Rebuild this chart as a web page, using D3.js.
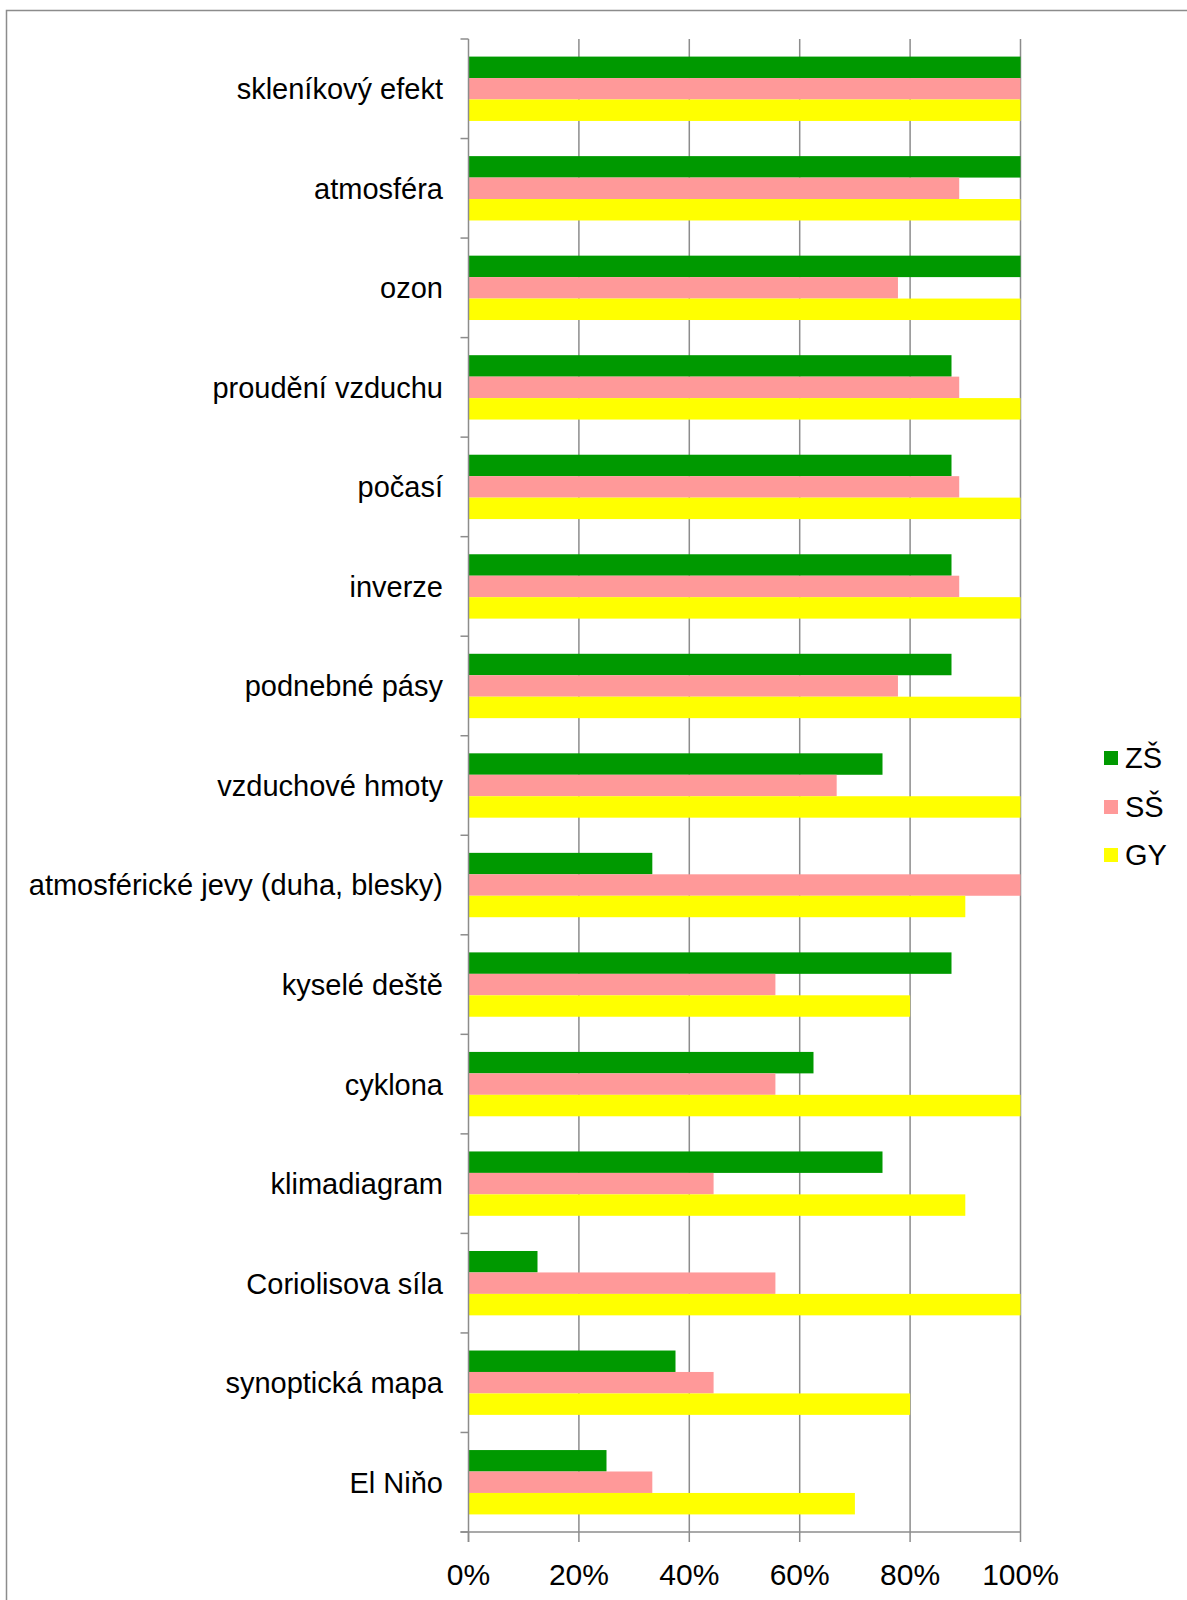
<!DOCTYPE html>
<html>
<head>
<meta charset="utf-8">
<script src="https://cdn.jsdelivr.net/npm/d3@7"></script>
<style>
  html, body { margin: 0; padding: 0; background: #fff; }
  svg { display: block; font-family: "Liberation Sans", Arial, sans-serif; }
</style>
</head>
<body>
<svg id="chart" width="1187" height="1600"></svg>
<script>
// Topics (top to bottom)
const categories = [
  "skleníkový efekt", "atmosféra", "ozon", "proudění vzduchu", "počasí",
  "inverze", "podnebné pásy", "vzduchové hmoty", "atmosférické jevy (duha, blesky)",
  "kyselé deště", "cyklona", "klimadiagram", "Coriolisova síla", "synoptická mapa", "El Niňo"
];

// Share of respondents per school type (in %)
const seriesNames = ["ZŠ", "SŠ", "GY"];
const valuesZS = [100, 100, 100, 87.5, 87.5, 87.5, 87.5, 75, 33.3, 87.5, 62.5, 75, 12.5, 37.5, 25];
const valuesSS = [100, 88.9, 77.8, 88.9, 88.9, 88.9, 77.8, 66.7, 100, 55.6, 55.6, 44.4, 55.6, 44.4, 33.3];
const valuesGY = [100, 100, 100, 100, 100, 100, 100, 100, 90, 80, 100, 90, 100, 80, 70];
const seriesColors = ["#009900", "#ff9999", "#ffff00"];
const xTicks = [0, 20, 40, 60, 80, 100];

const series = [valuesZS, valuesSS, valuesGY];

const svg = d3.select("#chart");
const gridColor = "#8c8c8c";

// Outer frame
svg.append("path")
  .attr("d", "M6.5,1600 V10.5 H1187")
  .attr("fill", "none").attr("stroke", gridColor).attr("stroke-width", 1.5);

const plot = { left: 468.5, right: 1020.5, top: 39, bottom: 1532 };

const x = d3.scaleLinear().domain([0, 100]).range([plot.left, plot.right]);
const y = d3.scaleBand().domain(categories).range([plot.top, plot.bottom]).padding(0);
const ySub = d3.scaleBand().domain(seriesNames).range([0, y.bandwidth()])
  .paddingInner(0).paddingOuter(0.82);

// Vertical gridlines
svg.append("g").selectAll("line")
  .data(xTicks.filter(t => t > 0))
  .join("line")
  .attr("x1", d => x(d)).attr("x2", d => x(d))
  .attr("y1", plot.top).attr("y2", plot.bottom)
  .attr("stroke", gridColor).attr("stroke-width", 1.5);

// Bars
seriesNames.forEach((name, si) => {
  svg.append("g").selectAll("rect")
    .data(categories.map((c, i) => ({ c, v: series[si][i] })))
    .join("rect")
    .attr("x", x(0))
    .attr("y", d => y(d.c) + ySub(name))
    .attr("width", d => x(d.v) - x(0))
    .attr("height", ySub.bandwidth())
    .attr("fill", seriesColors[si]);
});

// Category axis (left) with boundary ticks
const yAxis = svg.append("g");
yAxis.append("line")
  .attr("x1", plot.left).attr("x2", plot.left)
  .attr("y1", plot.top).attr("y2", plot.bottom + 10)
  .attr("stroke", gridColor).attr("stroke-width", 1.5);
const boundaries = categories.map(c => y(c)).concat([plot.bottom]);
yAxis.selectAll("line.tick")
  .data(boundaries)
  .join("line")
  .attr("class", "tick")
  .attr("x1", plot.left - 8).attr("x2", plot.left)
  .attr("y1", d => d).attr("y2", d => d)
  .attr("stroke", gridColor).attr("stroke-width", 1.5);
yAxis.selectAll("text")
  .data(categories)
  .join("text")
  .attr("x", 443)
  .attr("y", d => y(d) + y.bandwidth() / 2)
  .attr("dy", "0.36em")
  .attr("text-anchor", "end")
  .attr("font-size", 29)
  .attr("fill", "#000")
  .text(d => d);

// Value axis (bottom)
const xAxis = svg.append("g");
xAxis.append("line")
  .attr("x1", plot.left - 8).attr("x2", plot.right)
  .attr("y1", plot.bottom).attr("y2", plot.bottom)
  .attr("stroke", gridColor).attr("stroke-width", 1.5);
xAxis.selectAll("line.tick")
  .data(xTicks)
  .join("line")
  .attr("class", "tick")
  .attr("x1", d => x(d)).attr("x2", d => x(d))
  .attr("y1", plot.bottom).attr("y2", plot.bottom + 10)
  .attr("stroke", gridColor).attr("stroke-width", 1.5);
xAxis.selectAll("text")
  .data(xTicks)
  .join("text")
  .attr("x", d => x(d))
  .attr("y", 1585)
  .attr("text-anchor", "middle")
  .attr("font-size", 30)
  .attr("fill", "#000")
  .text(d => d + "%");

// Legend
const legend = svg.append("g");
const legendY = [758, 807, 855];
seriesNames.forEach((name, i) => {
  legend.append("rect")
    .attr("x", 1104).attr("y", legendY[i] - 7)
    .attr("width", 14).attr("height", 14)
    .attr("fill", seriesColors[i]);
  legend.append("text")
    .attr("x", 1125).attr("y", legendY[i])
    .attr("dy", "0.36em")
    .attr("font-size", 29)
    .attr("fill", "#000")
    .text(name);
});
</script>
</body>
</html>
